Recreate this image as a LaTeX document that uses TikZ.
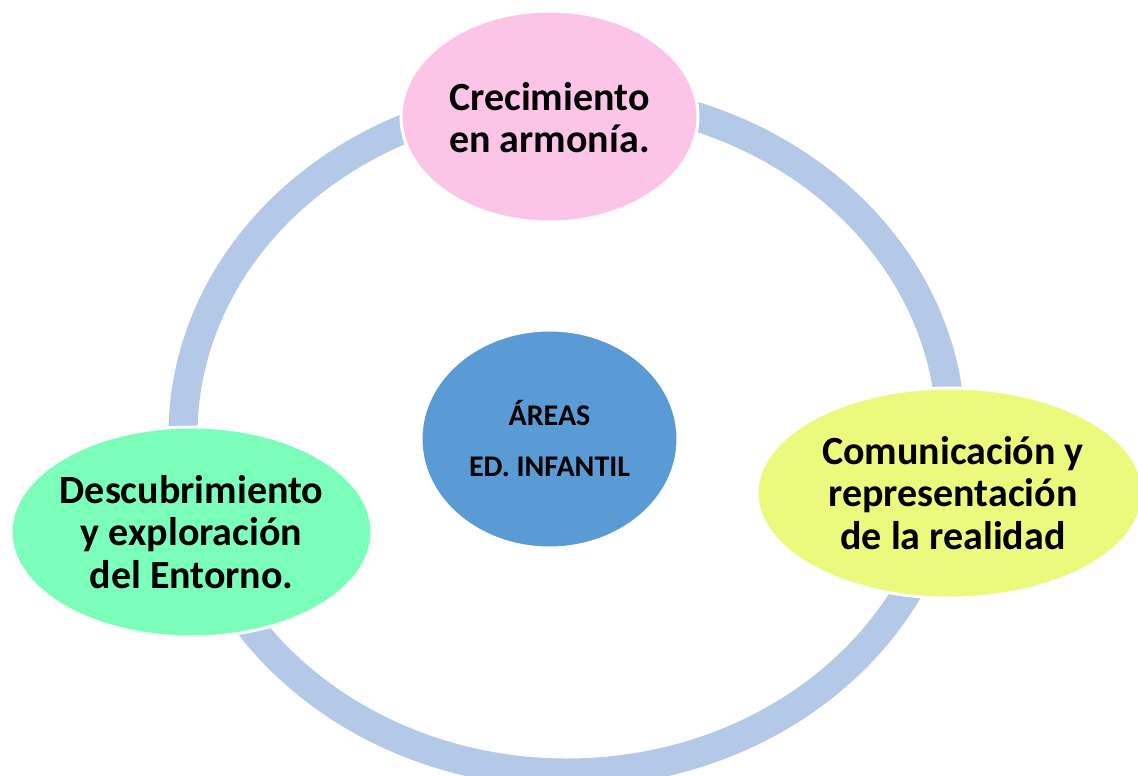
\documentclass[tikz,border=0pt]{standalone}
\usepackage{fontspec}
\setmainfont{Carlito}
\usetikzlibrary{shapes.geometric}
\definecolor{ringblue}{HTML}{B4C8E7}
\definecolor{pinkfill}{HTML}{FCC5E8}
\definecolor{greenfill}{HTML}{7AFEB9}
\definecolor{yellowfill}{HTML}{EBF97D}
\definecolor{bluefill}{HTML}{5B9BD5}
\tikzset{
  area/.style={ellipse, draw=white, line width=3pt, inner sep=0pt},
  bigtext/.style={align=center, font=\bfseries\fontsize{40}{42.5}\selectfont, inner sep=0pt},
  midtext/.style={align=center, font=\bfseries\fontsize{30}{51}\selectfont, inner sep=0pt}
}
\begin{document}
\begin{tikzpicture}[x=1pt,y=-1pt]
  \useasboundingbox[fill=white] (0,0) rectangle (1138,776);
  % ring
  \coordinate (ringc) at (567,435);
  \draw[ringblue, line width=29pt] (ringc) ellipse [x radius=384, y radius=338];
  % ellipses
  \node[area, fill=pinkfill, minimum width=297pt, minimum height=211pt] (pink) at (549.5,116.5) {};
  \node[area, fill=greenfill, minimum width=361pt, minimum height=210pt] (green) at (191.5,532) {};
  \node[area, fill=yellowfill, minimum width=386pt, minimum height=210pt] (yellow) at (950,493) {};
  \node[area, fill=bluefill, minimum width=257pt, minimum height=218pt] (blue) at (549.5,439) {};
  % texts
  \node[bigtext] (pinktxt) at ([yshift=-1pt]pink.center) {Crecimiento\\en armonía.};
  \node[bigtext] (greentxt) at (green.center) {Descubrimiento\\y exploración\\del Entorno.};
  \node[bigtext] (yellowtxt) at ([xshift=3pt]yellow.center) {Comunicación y\\representación\\de la realidad};
  \node[midtext] (bluetxt) at (blue.center) {ÁREAS\\ED. INFANTIL};
\end{tikzpicture}
\end{document}
